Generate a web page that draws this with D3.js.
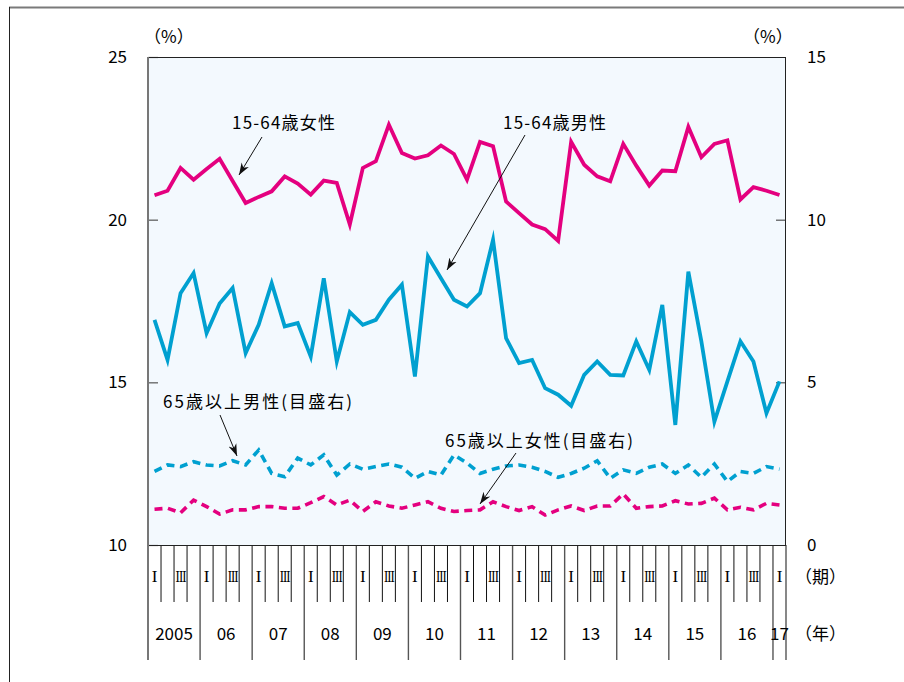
<!DOCTYPE html>
<html><head><meta charset="utf-8">
<script src="https://cdn.jsdelivr.net/npm/d3@7"></script>
<style>
body{margin:0;background:#fff;}
svg text{font-family:"Noto Sans CJK JP","Noto Sans",sans-serif;fill:#000;}
</style></head>
<body><svg id="c" width="904" height="682"></svg>
<script>
// ---- data ----
const years = ["2005","06","07","08","09","10","11","12","13","14","15","16","17"];
const quarterLabels = ["I","","III",""];
const leftTicks = [10,15,20,25];
const rightTicks = [0,5,10,15];
// 15-64歳女性 (left axis, %)
const female1564 = [20.75,20.89,21.59,21.23,21.56,21.87,21.19,20.51,20.70,20.87,21.33,21.11,20.77,21.20,21.13,19.85,
  21.59,21.80,22.92,22.05,21.88,21.98,22.28,22.02,21.23,22.39,22.26,20.56,20.20,19.85,19.71,19.35,
  22.39,21.69,21.33,21.18,22.33,21.66,21.05,21.51,21.49,22.85,21.92,22.33,22.44,20.62,21.00,20.89,20.76];
// 15-64歳男性 (left axis, %)
const male1564 = [16.92,15.69,17.74,18.36,16.51,17.42,17.90,15.90,16.77,18.05,16.72,16.82,15.79,18.20,15.64,17.16,
  16.77,16.92,17.54,18.00,15.18,18.87,18.20,17.54,17.33,17.74,19.38,16.36,15.59,15.69,14.82,14.62,
  14.28,15.23,15.64,15.23,15.21,16.26,15.38,17.38,13.69,18.40,16.26,13.79,15.03,16.26,15.64,14.05,15.03];
// 65歳以上男性 (right axis, %)
const male65 = [2.26,2.46,2.41,2.56,2.46,2.43,2.59,2.46,2.92,2.20,2.10,2.67,2.46,2.77,2.15,2.49,
  2.33,2.41,2.49,2.39,2.05,2.26,2.15,2.77,2.52,2.20,2.33,2.43,2.46,2.39,2.26,2.08,
  2.20,2.36,2.59,2.05,2.31,2.20,2.39,2.49,2.20,2.46,2.08,2.49,1.95,2.26,2.20,2.41,2.33];
// 65歳以上女性 (right axis, %)
const female65 = [1.10,1.13,0.99,1.38,1.18,0.95,1.08,1.08,1.18,1.18,1.13,1.13,1.30,1.49,1.23,1.38,
  1.03,1.33,1.20,1.13,1.23,1.33,1.13,1.03,1.06,1.08,1.33,1.18,1.06,1.18,0.92,1.08,
  1.20,1.06,1.20,1.20,1.57,1.13,1.18,1.20,1.36,1.26,1.28,1.44,1.08,1.16,1.08,1.28,1.23];

const nQ = female1564.length;
const qKeys = d3.range(nQ);

const svg = d3.select("#c");
const L = 148, R = 786, T = 57, B = 545;
const MAGENTA = "#e4007f", BLUE = "#00a0d0";
const FS = 17;

const x = d3.scaleBand().domain(qKeys).range([L, R]).paddingInner(0).paddingOuter(0);
const bw = x.bandwidth();
const yL = d3.scaleLinear().domain([10,25]).range([B,T]);
const yR = d3.scaleLinear().domain([0,15]).range([B,T]);

// outer frame
svg.append("line").attr("x1",9).attr("x2",904).attr("y1",7.5).attr("y2",7.5).attr("stroke","#7a7a7a").attr("stroke-width",2);
svg.append("line").attr("x1",9.5).attr("x2",9.5).attr("y1",7).attr("y2",682).attr("stroke","#222").attr("stroke-width",1);

// plot background
svg.append("rect").attr("x",L).attr("y",T).attr("width",R-L).attr("height",B-T).attr("fill","#f3f9fe");

// below-axis quarter/year grid
const g2 = svg.append("g");
for (let k = 0; k <= nQ; k++) {
  const xx = k < nQ ? x(k) : R;
  const isYear = (k % 4 === 0) || k === nQ;
  g2.append("line").attr("x1",xx).attr("x2",xx).attr("y1",B).attr("y2",isYear?660:602)
    .attr("stroke", isYear ? "#555" : "#111").attr("stroke-width", isYear ? 1.4 : 1);
}
// quarter labels (serif roman numerals)
qKeys.forEach(i => {
  const lab = quarterLabels[i % 4];
  if (!lab) return;
  const t = g2.append("text").attr("x", x(i)+bw/2).attr("y",576).attr("text-anchor","middle")
    .attr("dominant-baseline","central").attr("font-size",17)
    .style("font-family","'Liberation Serif','DejaVu Serif',serif").text(lab);
  if (lab.length > 1) t.attr("letter-spacing",-1.2).attr("textLength",10).attr("lengthAdjust","spacingAndGlyphs");
});
// year labels
years.forEach((yv, j) => {
  const start = x(j*4);
  const end = (j*4+4 < nQ) ? x(j*4+4) : R;
  g2.append("text").attr("x",(start+end)/2).attr("y",632).attr("text-anchor","middle")
    .attr("dominant-baseline","central").attr("font-size",FS).text(yv);
});
svg.append("text").attr("x",795).attr("y",575).attr("dominant-baseline","central").attr("font-size",FS).text("（期）");
svg.append("text").attr("x",795).attr("y",632).attr("dominant-baseline","central").attr("font-size",FS).text("（年）");

// axes
const axL = svg.append("g").attr("transform",`translate(${L},0)`)
  .call(d3.axisLeft(yL).tickValues(leftTicks).tickSizeInner(-10).tickSizeOuter(0).tickPadding(21));
axL.select(".domain").remove();
axL.selectAll(".tick line").attr("stroke","#555").attr("stroke-width",1.2);
axL.selectAll(".tick text").attr("font-size",FS).attr("font-family","'Noto Sans CJK JP',sans-serif").attr("fill","#000");

const axR = svg.append("g").attr("transform",`translate(${R},0)`)
  .call(d3.axisRight(yR).tickValues(rightTicks).tickSizeInner(-10).tickSizeOuter(0).tickPadding(21));
axR.select(".domain").remove();
axR.selectAll(".tick line").attr("stroke","#333").attr("stroke-width",1);
axR.selectAll(".tick text").attr("font-size",FS).attr("font-family","'Noto Sans CJK JP',sans-serif").attr("fill","#000");

// plot borders
svg.append("line").attr("x1",L).attr("x2",R).attr("y1",T+0.5).attr("y2",T+0.5).attr("stroke","#222");
svg.append("line").attr("x1",R-0.5).attr("x2",R-0.5).attr("y1",T).attr("y2",B).attr("stroke","#222");
svg.append("line").attr("x1",L).attr("x2",R).attr("y1",B+0.5).attr("y2",B+0.5).attr("stroke","#222");
svg.append("line").attr("x1",L).attr("x2",L).attr("y1",T).attr("y2",660).attr("stroke","#777").attr("stroke-width",2);

// unit labels
svg.append("text").attr("x",144).attr("y",35).attr("dominant-baseline","central").attr("font-size",FS).text("（%）");
svg.append("text").attr("x",743).attr("y",35).attr("dominant-baseline","central").attr("font-size",FS).text("（%）");

// lines
function drawLine(data, yScale, color, dashed){
  const gen = d3.line().x((d,i)=>x(i)+bw/2).y(d=>yScale(d)).curve(d3.curveLinear);
  const p = svg.append("path").datum(data).attr("d",gen).attr("fill","none")
    .attr("stroke",color).attr("stroke-width",dashed?3.6:3.8).attr("stroke-linejoin","miter").attr("stroke-miterlimit",6);
  if (dashed) p.attr("stroke-dasharray","8,5.5");
}
drawLine(male65, yR, BLUE, true);
drawLine(female65, yR, MAGENTA, true);
drawLine(male1564, yL, BLUE, false);
drawLine(female1564, yL, MAGENTA, false);

// annotations
const defs = svg.append("defs");
defs.append("marker").attr("id","ah").attr("viewBox","0 0 10 10").attr("refX",10).attr("refY",5)
  .attr("markerWidth",12).attr("markerHeight",12).attr("markerUnits","userSpaceOnUse").attr("orient","auto")
  .append("path").attr("d","M0,1.5 L10,5 L0,8.5 L3,5 Z").attr("fill","#111");
const notes = [
  {t:"15-64歳女性", tx:232, ty:121, w:103, x1:262, y1:137, x2:239, y2:175},
  {t:"15-64歳男性", tx:503, ty:121, w:103, x1:525, y1:135, x2:447, y2:270},
  {t:"65歳以上男性(目盛右)", tx:163, ty:400, w:189, x1:220, y1:415, x2:237, y2:456},
  {t:"65歳以上女性(目盛右)", tx:445, ty:439, w:188, x1:516, y1:453, x2:480, y2:504}
];
notes.forEach(n=>{
  svg.append("text").attr("x",n.tx).attr("y",n.ty).attr("dominant-baseline","central").attr("font-size",FS)
    .attr("textLength",n.w).attr("lengthAdjust","spacing").text(n.t);
  svg.append("line").attr("x1",n.x1).attr("y1",n.y1).attr("x2",n.x2).attr("y2",n.y2)
    .attr("stroke","#111").attr("stroke-width",1).attr("marker-end","url(#ah)");
});
</script></body></html>
